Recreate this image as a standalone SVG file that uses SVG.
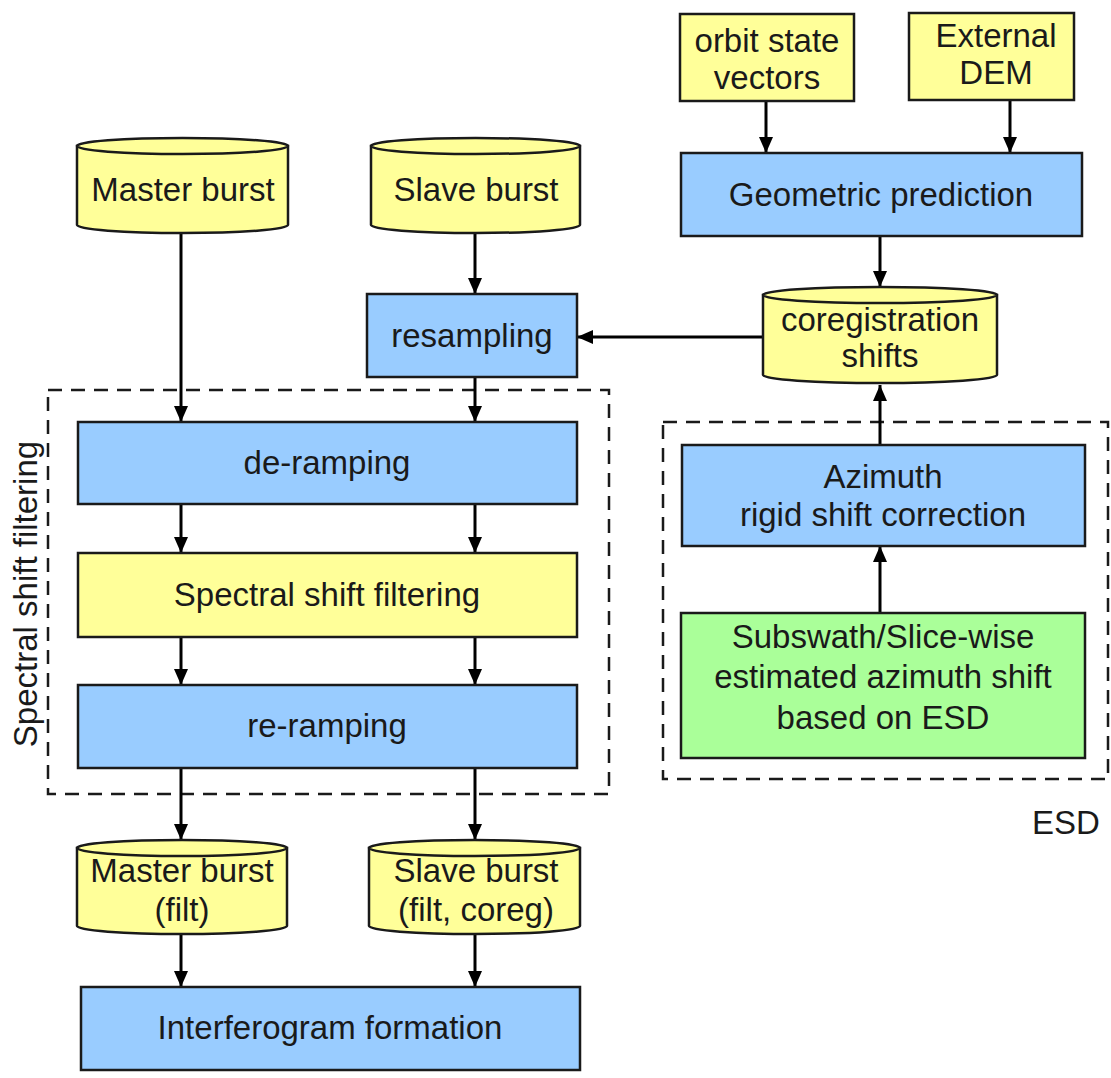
<svg xmlns="http://www.w3.org/2000/svg" width="1111" height="1078" viewBox="0 0 1111 1078">
  <style>
    text { font-family: "Liberation Sans", Arial, sans-serif; font-size: 33px; fill: #1a1a1a; text-anchor: middle; }
    .proc { fill: #99ccff; stroke: #1a1a1a; stroke-width: 2.5; }
    .data { fill: #ffff99; stroke: #1a1a1a; stroke-width: 2.5; }
    .est  { fill: #aaff99; stroke: #1a1a1a; stroke-width: 2.5; }
    .group { fill: none; stroke: #1a1a1a; stroke-width: 2.5; stroke-dasharray: 14 9; }
    .edge { fill: none; stroke: #000; stroke-width: 3; marker-end: url(#arrow); }
  </style>
  <defs>
    <marker id="arrow" markerUnits="userSpaceOnUse" markerWidth="18" markerHeight="14" refX="16" refY="7" orient="auto">
      <path d="M0,0 L16,7 L0,14 Z" fill="#000"/>
    </marker>
  </defs>

  <rect width="1111" height="1078" fill="#ffffff"/>

  <!-- grouping frames -->
  <g id="group-spectral">
    <rect class="group" x="48" y="390" width="561" height="404"/>
    <text transform="translate(37,594) rotate(-90)">Spectral shift filtering</text>
  </g>
  <g id="group-esd">
    <rect class="group" x="663" y="422" width="445" height="357"/>
    <text x="1066" y="834">ESD</text>
  </g>

  <!-- connectors -->
  <g id="connectors">
    <line class="edge" x1="766" y1="101" x2="766" y2="153"/>
    <line class="edge" x1="1010" y1="101" x2="1010" y2="153"/>
    <line class="edge" x1="880" y1="236" x2="880" y2="287"/>
    <line class="edge" x1="763" y1="337" x2="577" y2="337"/>
    <line class="edge" x1="880" y1="445" x2="880" y2="385"/>
    <line class="edge" x1="880" y1="613" x2="880" y2="546"/>
    <line class="edge" x1="181" y1="233" x2="181" y2="422"/>
    <line class="edge" x1="475" y1="233" x2="475" y2="294"/>
    <line class="edge" x1="475" y1="377" x2="475" y2="422"/>
    <line class="edge" x1="181" y1="504" x2="181" y2="553"/>
    <line class="edge" x1="475" y1="504" x2="475" y2="553"/>
    <line class="edge" x1="181" y1="637" x2="181" y2="685"/>
    <line class="edge" x1="475" y1="637" x2="475" y2="685"/>
    <line class="edge" x1="181" y1="768" x2="181" y2="840"/>
    <line class="edge" x1="475" y1="768" x2="475" y2="840"/>
    <line class="edge" x1="181" y1="934" x2="181" y2="987"/>
    <line class="edge" x1="475" y1="934" x2="475" y2="987"/>
  </g>

  <!-- inputs -->
  <g id="orbit-state-vectors">
    <rect class="data" x="680" y="14" width="174" height="87"/>
    <text x="767" y="52">orbit state</text>
    <text x="767" y="89">vectors</text>
  </g>
  <g id="external-dem">
    <rect class="data" x="909" y="13" width="165" height="87"/>
    <text x="996" y="47">External</text>
    <text x="996" y="84">DEM</text>
  </g>
  <g id="geometric-prediction">
    <rect class="proc" x="681" y="153" width="401" height="83"/>
    <text x="881" y="206">Geometric prediction</text>
  </g>

  <!-- data stores (cylinders) -->
  <g id="master-burst">
    <path class="data" d="M77,146 L77,225 A105.5,8 0 0 0 288,225 L288,146 Z"/>
    <ellipse class="data" cx="182.5" cy="146" rx="105.5" ry="8"/>
    <text x="183" y="201">Master burst</text>
  </g>
  <g id="slave-burst">
    <path class="data" d="M371,146 L371,225 A104.5,8 0 0 0 580,225 L580,146 Z"/>
    <ellipse class="data" cx="475.5" cy="146" rx="104.5" ry="8"/>
    <text x="476" y="201">Slave burst</text>
  </g>
  <g id="coregistration-shifts">
    <path class="data" d="M763,295 L763,375 A117,8 0 0 0 997,375 L997,295 Z"/>
    <ellipse class="data" cx="880" cy="295" rx="117" ry="8"/>
    <text x="880" y="331">coregistration</text>
    <text x="880" y="367">shifts</text>
  </g>

  <g id="resampling">
    <rect class="proc" x="367" y="294" width="210" height="83"/>
    <text x="472" y="347">resampling</text>
  </g>

  <!-- spectral shift filtering chain -->
  <g id="de-ramping">
    <rect class="proc" x="78" y="422" width="499" height="82"/>
    <text x="327" y="474">de-ramping</text>
  </g>
  <g id="spectral-shift-filtering">
    <rect class="data" x="78" y="553" width="499" height="84"/>
    <text x="327" y="606">Spectral shift filtering</text>
  </g>
  <g id="re-ramping">
    <rect class="proc" x="78" y="685" width="499" height="83"/>
    <text x="327" y="737">re-ramping</text>
  </g>

  <!-- ESD branch -->
  <g id="azimuth-correction">
    <rect class="proc" x="682" y="445" width="403" height="101"/>
    <text x="883" y="488">Azimuth</text>
    <text x="883" y="526">rigid shift correction</text>
  </g>
  <g id="esd-estimation">
    <rect class="est" x="681" y="613" width="404" height="145"/>
    <text x="883" y="648">Subswath/Slice-wise</text>
    <text x="883" y="688">estimated azimuth shift</text>
    <text x="883" y="729">based on ESD</text>
  </g>

  <!-- outputs -->
  <g id="master-burst-filt">
    <path class="data" d="M77,848 L77,926 A105,8 0 0 0 287,926 L287,848 Z"/>
    <ellipse class="data" cx="182" cy="848" rx="105" ry="8"/>
    <text x="182" y="882">Master burst</text>
    <text x="182" y="921">(filt)</text>
  </g>
  <g id="slave-burst-filt">
    <path class="data" d="M369,848 L369,926 A105.5,8 0 0 0 580,926 L580,848 Z"/>
    <ellipse class="data" cx="474.5" cy="848" rx="105.5" ry="8"/>
    <text x="476" y="882">Slave burst</text>
    <text x="476" y="921">(filt, coreg)</text>
  </g>
  <g id="interferogram-formation">
    <rect class="proc" x="81" y="987" width="499" height="83"/>
    <text x="330" y="1039">Interferogram formation</text>
  </g>
</svg>
